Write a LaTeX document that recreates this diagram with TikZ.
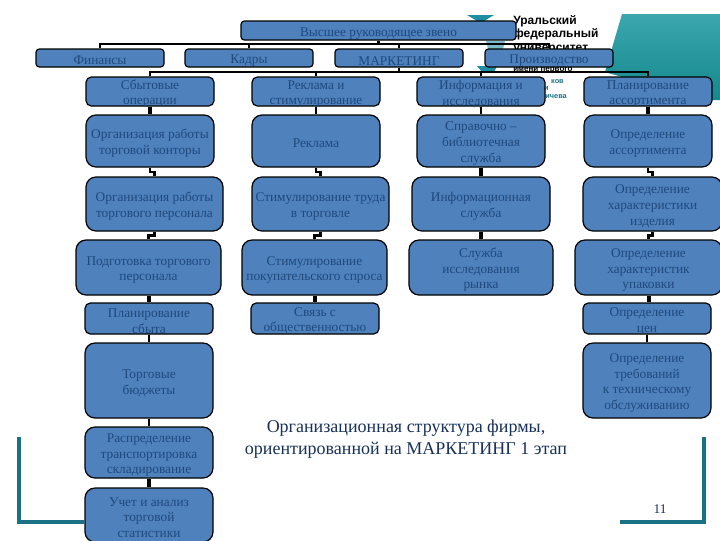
\documentclass[tikz,border=0pt]{standalone}
\usepackage{fontspec}
\setmainfont{Liberation Serif}
\newfontfamily\logofont{Liberation Sans}
\usetikzlibrary{calc}
\definecolor{boxfill}{HTML}{4F81BD}
\definecolor{boxtext}{HTML}{1F497D}
\definecolor{frameteal}{HTML}{1A7385}
\definecolor{logoteal}{HTML}{1E8FA3}
\definecolor{bannertop}{HTML}{3BA6AE}
\definecolor{bannermid}{HTML}{008A8C}
\definecolor{bannerlow}{HTML}{14898C}
\definecolor{captionink}{HTML}{17315A}
\tikzset{
  x=0.75pt,y=-0.75pt,
  orgbox/.style={draw=black,line width=0.9pt,fill=boxfill,text=boxtext,align=center,inner xsep=0pt,inner ysep=-6pt,
    font=\fontsize{10}{11.8}\selectfont},
  flatbox/.style={orgbox,rounded corners=2.5pt},
  midbox/.style={orgbox,rounded corners=4pt},
  bigbox/.style={orgbox,rounded corners=7.5pt},
  wire/.style={draw=black,line width=1.9pt},
  thickwire/.style={draw=black,line width=3pt},
  frameline/.style={draw=frameteal,line width=2.4pt,line cap=butt,line join=miter},
  logotext/.style={font=\logofont\bfseries\fontsize{9}{10}\selectfont,text=black,anchor=west,inner sep=0pt},
  logosmall/.style={font=\logofont\bfseries\fontsize{5.5}{6}\selectfont,text=frameteal,anchor=east,inner sep=0pt}
}
\newcommand{\card}[7]{% name, style, x1, y1, x2, y2, text
  \node[#2,minimum width=#5*0.75pt-#3*0.75pt,minimum height=#6*0.75pt-#4*0.75pt] (#1) at ({(#3+#5)/2},{(#4+#6)/2}) {\rule{0pt}{10.5pt}#7};}
\begin{document}
\begin{tikzpicture}
\useasboundingbox (0,0) rectangle (720,540);
\fill[white] (0,0) rectangle (720,540);
% gradient banner
\shade[top color=bannertop,middle color=bannermid,bottom color=bannerlow]
  (622,14) -- (720,14) -- (720,100) -- (700,100) -- (605,72) -- cycle;
% university logo
\fill[logoteal] (467,15) -- (494,15) -- (484,21) -- (477,21) -- cycle;
\fill[logoteal!60] (486,41) -- (505,41) -- (503,49) -- (488,49) -- cycle;
\fill[logoteal] (477,66) -- (497,66) -- (494,72) -- (482,72) -- cycle;
\node[logotext] (logoa) at (513,21) {Уральский};
\node[logotext] (logob) at (513,34) {федеральный};
\node[logotext] (logoc) at (513,50) {университет};
\node[logotext,font=\logofont\bfseries\fontsize{6}{7}\selectfont] (logod) at (513,70) {имени первого};
\node[logosmall] (logoe) at (564,82) {ков};
\node[logosmall] (logof) at (549,89) {и};
\node[logosmall] (logog) at (567,97) {мичева};
% corner frame
\coordinate (fla) at (19,437); \coordinate (flb) at (19,522);
\coordinate (fra) at (704,437); \coordinate (frb) at (704,522); \coordinate (frc) at (620,522);
% boxes
\card{top}{flatbox}{241}{21}{516}{40}{Высшее руководящее звено}
\card{fin}{flatbox}{36}{49}{164}{67}{Финансы}
\card{hr}{flatbox}{185}{49}{313}{67}{Кадры}
\card{mkt}{flatbox}{335}{49}{463}{67}{МАРКЕТИНГ}
\card{prod}{flatbox}{485}{49}{613}{67}{Производство}
\card{aa}{midbox}{86}{77}{214}{106}{Сбытовые\\операции}
\card{ba}{midbox}{252}{77}{380}{106}{Реклама и\\стимулирование}
\card{ca}{midbox}{417}{77}{545}{106}{Информация и\\исследования}
\card{da}{midbox}{584}{77}{712}{106}{Планирование\\ассортимента}
\card{ab}{bigbox}{86}{115}{214}{167}{Организация работы\\торговой конторы}
\card{bb}{bigbox}{252}{115}{380}{167}{Реклама}
\card{cb}{bigbox}{417}{115}{545}{167}{Справочно –\\библиотечная\\служба}
\card{db}{bigbox}{584}{115}{712}{167}{Определение\\ассортимента}
\card{ac}{bigbox}{86}{177}{223}{231}{Организация работы\\торгового персонала}
\card{bc}{bigbox}{252}{177}{389}{231}{Стимулирование труда\\в торговле}
\card{cc}{bigbox}{412}{177}{550}{231}{Информационная\\служба}
\card{dc}{bigbox}{583}{177}{722}{231}{Определение\\характеристики\\изделия}
\card{ad}{bigbox}{76}{240}{221}{295}{Подготовка торгового\\персонала}
\card{bd}{bigbox}{242}{240}{387}{295}{Стимулирование\\покупательского спроса}
\card{cd}{bigbox}{409}{240}{553}{295}{Служба\\исследования\\рынка}
\card{dd}{bigbox}{575}{240}{722}{295}{Определение\\характеристик\\упаковки}
\card{ae}{midbox}{85}{303}{213}{334}{Планирование\\сбыта}
\card{be}{midbox}{251}{303}{379}{334}{Связь с\\общественностью}
\card{de}{midbox}{583}{303}{711}{334}{Определение\\цен}
\card{af}{bigbox}{85}{343}{213}{418}{Торговые\\бюджеты}
\card{df}{bigbox}{583}{343}{711}{418}{Определение\\требований\\к техническому\\обслуживанию}
\card{ag}{bigbox}{85}{427}{213}{478}{Распределение\\транспортировка\\складирование}
\card{ah}{bigbox}{85}{488}{213}{542}{Учет и анализ\\торговой\\статистики}
% frame lines
\draw[frameline] (fla) -- (flb) -- (ah.west |- flb);
\draw[frameline] (fra) -- (frb) -- (frc);
% connectors: top tier
\coordinate (busa) at (top.south |- 0,44);
\draw[wire] (top.south) -- (busa);
\draw[wire] (fin.north) |- (busa);
\draw[wire] (hr.north) |- (busa);
\draw[wire] (mkt.north) |- (busa);
\draw[wire] (prod.north) |- (busa);
% connectors: second tier
\coordinate (busb) at (mkt.south |- 0,72);
\draw[wire] (mkt.south) -- (busb);
\draw[wire] (aa.north) |- (busb);
\draw[wire] (ba.north) |- (busb);
\draw[wire] (ca.north) |- (busb);
\draw[wire] (da.north) |- (busb);
% column links
\draw[thickwire] (aa.south) -- (aa.south |- ab.north);
\draw[wire] (ba.south) -- (ba.south |- bb.north);
\draw[wire] (ca.south) -- (ca.south |- cb.north);
\draw[thickwire] (da.south) -- (da.south |- db.north);
\draw[wire] (ab.south) |- ($(ab.south)!0.5!(ac.north)$) -| (ac.north);
\draw[wire] (bb.south) |- ($(bb.south)!0.5!(bc.north)$) -| (bc.north);
\draw[thickwire] (cb.south) -- (cb.south |- cc.north);
\draw[wire] (db.south) |- ($(db.south)!0.5!(dc.north)$) -| (dc.north);
\draw[wire] (ac.south) |- ($(ac.south)!0.5!(ad.north)$) -| (ad.north);
\draw[wire] (bc.south) |- ($(bc.south)!0.5!(bd.north)$) -| (bd.north);
\draw[thickwire] (cc.south) -- (cc.south |- cd.north);
\draw[wire] (dc.south) |- ($(dc.south)!0.5!(dd.north)$) -| (dd.north);
\draw[thickwire] (ad.south) -- (ad.south |- ae.north);
\draw[thickwire] (bd.south) -- (bd.south |- be.north);
\draw[thickwire] (dd.south) -- (dd.south |- de.north);
\draw[wire] (ae.south) -- (ae.south |- af.north);
\draw[wire] (de.south) -- (de.south |- df.north);
\draw[wire] (af.south) -- (af.south |- ag.north);
\draw[thickwire] (ag.south) -- (ag.south |- ah.north);
% caption and page number
\node[text=captionink,align=center,inner sep=0pt,font=\fontsize{13.5}{16.5}\selectfont] (caption) at (406,439)
  {Организационная структура фирмы,\\ориентированной на МАРКЕТИНГ 1 этап};
\node[text=captionink,inner sep=0pt,font=\fontsize{10}{12}\selectfont] (pageno) at (660,509) {11};
\end{tikzpicture}
\end{document}
